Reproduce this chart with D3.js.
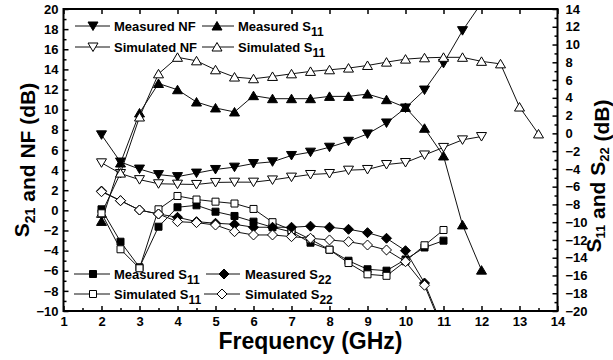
<!DOCTYPE html>
<html>
<head>
<meta charset="utf-8">
<script src="https://cdn.jsdelivr.net/npm/d3@7"></script>
<style>
  body { margin: 0; background: #fff; }
  svg { font-family: "Liberation Sans", Arial, sans-serif; font-weight: bold; }
</style>
</head>
<body>
<div id="chart"></div>
<script>
// ---- data ----
const freqA = [2, 2.5, 3, 3.5, 4, 4.5, 5, 5.5, 6, 6.5, 7, 7.5, 8, 8.5, 9, 9.5, 10, 10.5, 11, 11.5, 12];
const freqB = [2, 2.5, 3, 3.5, 4, 4.5, 5, 5.5, 6, 6.5, 7, 7.5, 8, 8.5, 9, 9.5, 10, 10.5, 11, 11.5, 12, 12.5, 13, 13.5];
const freqC = [2, 2.5, 3, 3.5, 4, 4.5, 5, 5.5, 6, 6.5, 7, 7.5, 8, 8.5, 9, 9.5, 10, 10.5, 11];

// left axis (S21 and NF)
const measNF = [7.5, 4.8, 4.1, 3.55, 3.35, 3.7, 4.06, 4.29, 4.65, 4.82, 5.45, 5.78, 6.27, 6.86, 7.59, 8.68, 10.17, 11.95, 14.6, 17.85, 20.6];
const simNF = [4.72, 3.66, 3.05, 2.64, 2.6, 2.57, 2.77, 2.8, 2.8, 3.02, 3.3, 3.56, 3.66, 3.99, 4.06, 4.55, 4.75, 5.5, 6.25, 7.0, 7.33];
const measGain = [-1.1, 4.7, 9.67, 12.6, 11.98, 10.76, 10.17, 9.77, 11.39, 11.09, 11.09, 11.09, 11.32, 11.32, 11.55, 10.99, 10.22, 8.15, 5.4, -1.45, -5.94];
const simGain = [-0.3, 3.7, 9.27, 13.56, 15.2, 14.85, 13.96, 13.24, 13.07, 13.3, 13.56, 13.8, 13.96, 14.13, 14.39, 14.72, 15.02, 15.15, 15.2, 15.2, 14.8, 14.55, 10.26, 7.59];

// right axis (S11 and S22)
const measS11 = [-8.55, -12.2, -15.08, -10.51, -8.32, -8.1, -8.82, -9.3, -9.94, -10.57, -11.1, -12.31, -13.1, -14.34, -15.3, -15.46, -14.2, -12.85, -12.08];
const simS11 = [-9.0, -13.05, -15.19, -8.55, -7.05, -7.45, -7.69, -7.9, -8.51, -10.0, -10.88, -11.93, -13.1, -14.6, -15.87, -16.04, -14.4, -12.6, -10.88];
const measS22 = [-6.5, -7.58, -8.63, -9.08, -9.45, -9.94, -10.12, -10.24, -10.57, -10.57, -10.57, -10.45, -10.57, -10.8, -11.18, -11.81, -13.21, -16.85, -22];
const simS22 = [-6.57, -7.58, -8.63, -9.08, -9.94, -10.05, -10.32, -11.07, -11.44, -11.44, -11.63, -11.81, -12.0, -12.2, -12.57, -13.13, -14.45, -17.1, -22.3];

const xTicks = d3.range(1, 15);
const yLeftTicks = d3.range(-10, 21, 2);
const yRightTicks = d3.range(-20, 15, 2);

// ---- layout ----
const width = 613, height = 360;
const plot = { left: 63.5, right: 557.5, top: 9, bottom: 311 };

const svg = d3.select('#chart').append('svg')
  .attr('width', width)
  .attr('height', height);

const x = d3.scaleLinear().domain([1, 14]).range([plot.left, plot.right]);
const yL = d3.scaleLinear().domain([-10, 20]).range([plot.bottom, plot.top]);
const yR = d3.scaleLinear().domain([-20, 14]).range([plot.bottom, plot.top]);

// marker shapes
const shapes = {
  down: 'M0,4.5L5,-4L-5,-4Z',
  up: 'M0,-4.5L5,4L-5,4Z',
  square: 'M-3.5,-3.5h7v7h-7Z',
  diamond: 'M0,-5L5,0L0,5L-5,0Z'
};

const series = [
  { x: freqA, y: measNF, scale: yL, shape: 'down', fill: '#000' },
  { x: freqA, y: simNF, scale: yL, shape: 'down', fill: '#fff' },
  { x: freqA, y: measGain, scale: yL, shape: 'up', fill: '#000' },
  { x: freqB, y: simGain, scale: yL, shape: 'up', fill: '#fff' },
  { x: freqC, y: measS11, scale: yR, shape: 'square', fill: '#000' },
  { x: freqC, y: simS11, scale: yR, shape: 'square', fill: '#fff' },
  { x: freqC, y: measS22, scale: yR, shape: 'diamond', fill: '#000' },
  { x: freqC, y: simS22, scale: yR, shape: 'diamond', fill: '#fff' }
];

svg.append('clipPath').attr('id', 'clip')
  .append('rect')
    .attr('x', plot.left).attr('y', plot.top)
    .attr('width', plot.right - plot.left)
    .attr('height', plot.bottom - plot.top);

const g = svg.append('g').attr('clip-path', 'url(#clip)');

series.forEach(s => {
  const pts = s.x.map((f, i) => [f, s.y[i]]);
  const line = d3.line().x(d => x(d[0])).y(d => s.scale(d[1]));
  g.append('path')
    .datum(pts)
    .attr('d', line)
    .attr('fill', 'none')
    .attr('stroke', '#111')
    .attr('stroke-width', 1);
  g.selectAll(null)
    .data(pts)
    .enter()
    .append('path')
      .attr('d', shapes[s.shape])
      .attr('transform', d => `translate(${x(d[0])},${s.scale(d[1])})`)
      .attr('fill', s.fill)
      .attr('stroke', '#000')
      .attr('stroke-width', 1);
});

// ---- axes (ticks point inward) ----
function styleAxis(sel, fontSize) {
  sel.select('.domain').remove();
  sel.selectAll('.tick line').attr('stroke', '#000').attr('stroke-width', 1.5);
  sel.selectAll('.tick text')
    .attr('fill', '#000')
    .style('font-size', fontSize + 'px')
    .style('font-weight', 'bold')
    .style('font-family', '"Liberation Sans", Arial, sans-serif');
}

// bottom
svg.append('g').attr('transform', `translate(0,${plot.bottom})`)
  .call(d3.axisBottom(x).tickValues(xTicks).tickSize(-5).tickPadding(6).tickFormat(d3.format('d')))
  .call(sel => styleAxis(sel, 13));
svg.append('g').attr('transform', `translate(0,${plot.bottom})`)
  .call(d3.axisBottom(x).tickValues(d3.range(1.5, 14, 1)).tickSize(-3).tickFormat(''))
  .call(sel => styleAxis(sel, 13));
// top
svg.append('g').attr('transform', `translate(0,${plot.top})`)
  .call(d3.axisTop(x).tickValues(xTicks).tickSize(-5).tickFormat(''))
  .call(sel => styleAxis(sel, 13));
// left
svg.append('g').attr('transform', `translate(${plot.left},0)`)
  .call(d3.axisLeft(yL).tickValues(yLeftTicks).tickSize(-5).tickPadding(5).tickFormat(d3.format('d')))
  .call(sel => styleAxis(sel, 13));
svg.append('g').attr('transform', `translate(${plot.left},0)`)
  .call(d3.axisLeft(yL).tickValues(d3.range(-9, 20, 2)).tickSize(-3).tickFormat(''))
  .call(sel => styleAxis(sel, 13));
// right
svg.append('g').attr('transform', `translate(${plot.right},0)`)
  .call(d3.axisRight(yR).tickValues(yRightTicks).tickSize(-5).tickPadding(8).tickFormat(d3.format('d')))
  .call(sel => styleAxis(sel, 13));
svg.append('g').attr('transform', `translate(${plot.right},0)`)
  .call(d3.axisRight(yR).tickValues(d3.range(-19, 14, 2)).tickSize(-3).tickFormat(''))
  .call(sel => styleAxis(sel, 13));

// frame
svg.append('rect')
  .attr('x', plot.left).attr('y', plot.top)
  .attr('width', plot.right - plot.left)
  .attr('height', plot.bottom - plot.top)
  .attr('fill', 'none')
  .attr('stroke', '#000')
  .attr('stroke-width', 2);

// ---- axis titles ----
function subText(sel, parts, subSize, subDy) {
  parts.forEach(p => {
    if (p.sub) {
      sel.append('tspan').attr('dy', subDy).style('font-size', subSize + 'px').text(p.t);
      sel.append('tspan').attr('dy', -subDy).text('');
    } else {
      sel.append('tspan').text(p.t);
    }
  });
}

svg.append('text')
  .attr('x', (plot.left + plot.right) / 2)
  .attr('y', 349)
  .attr('text-anchor', 'middle')
  .style('font-size', '23px')
  .text('Frequency (GHz)');

const leftTitle = svg.append('text')
  .attr('transform', `translate(29,${(plot.top + plot.bottom) / 2}) rotate(-90)`)
  .attr('text-anchor', 'middle')
  .style('font-size', '21px');
subText(leftTitle, [{ t: 'S' }, { t: '21', sub: true }, { t: ' and NF (dB)' }], 14, 6);

const rightTitle = svg.append('text')
  .attr('transform', `translate(601,${(plot.top + plot.bottom) / 2 + 16}) rotate(-90)`)
  .attr('text-anchor', 'middle')
  .style('font-size', '21px');
subText(rightTitle, [{ t: 'S' }, { t: '11', sub: true }, { t: ' and S' }, { t: '22', sub: true }, { t: ' (dB)' }], 13, 4);

// ---- legends ----
const legendItems = [
  { label: [{ t: 'Measured NF' }], shape: 'down', fill: '#000', x0: 75, x1: 110, mx: 93, tx: 114, y: 26 },
  { label: [{ t: 'Simulated NF' }], shape: 'down', fill: '#fff', x0: 75, x1: 110, mx: 93, tx: 114, y: 47 },
  { label: [{ t: 'Measured S' }, { t: '11', sub: true }], shape: 'up', fill: '#000', x0: 202, x1: 234, mx: 217, tx: 238, y: 26 },
  { label: [{ t: 'Simulated S' }, { t: '11', sub: true }], shape: 'up', fill: '#fff', x0: 202, x1: 234, mx: 217, tx: 238, y: 47 },
  { label: [{ t: 'Measured S' }, { t: '11', sub: true }], shape: 'square', fill: '#000', x0: 74, x1: 110, mx: 93, tx: 114, y: 274 },
  { label: [{ t: 'Simulated S' }, { t: '11', sub: true }], shape: 'square', fill: '#fff', x0: 74, x1: 110, mx: 93, tx: 114, y: 294 },
  { label: [{ t: 'Measured S' }, { t: '22', sub: true }], shape: 'diamond', fill: '#000', x0: 206, x1: 240, mx: 224, tx: 245, y: 274 },
  { label: [{ t: 'Simulated S' }, { t: '22', sub: true }], shape: 'diamond', fill: '#fff', x0: 204, x1: 240, mx: 222, tx: 245, y: 294 }
];

legendItems.forEach(d => {
  svg.append('line')
    .attr('x1', d.x0).attr('x2', d.x1)
    .attr('y1', d.y).attr('y2', d.y)
    .attr('stroke', '#111').attr('stroke-width', 1);
  svg.append('path')
    .attr('d', shapes[d.shape])
    .attr('transform', `translate(${d.mx},${d.y})`)
    .attr('fill', d.fill).attr('stroke', '#000');
  const t = svg.append('text')
    .attr('x', d.tx).attr('y', d.y + 5)
    .style('font-size', '13px');
  subText(t, d.label, 12, 5);
});
</script>
</body>
</html>
